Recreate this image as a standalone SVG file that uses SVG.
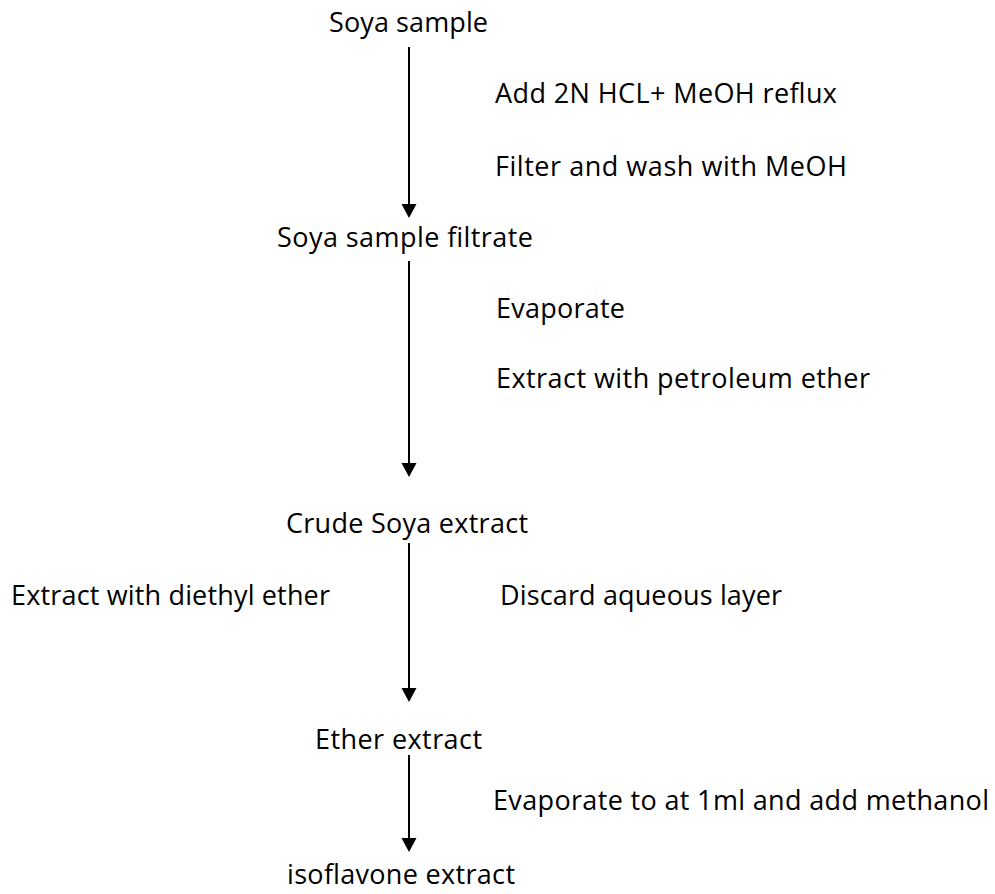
<svg xmlns="http://www.w3.org/2000/svg" xmlns:xlink="http://www.w3.org/1999/xlink" width="995" height="894" viewBox="0 0 995 894">
<style>
text{font-family:"Open Sans","Liberation Sans",sans-serif;font-size:27px;fill:#000}
.ln{stroke:#000;stroke-width:2;fill:none}
.hd{fill:#000;stroke:none}
</style>
<defs>
<path id="head" d="M-7.5,0 L7.5,0 L0,14 Z"/>
</defs>
<rect width="995" height="894" fill="#fff"/>
<g id="n1"><text x="329" y="32" textLength="159">Soya sample</text></g>
<g id="n2"><text x="277" y="247" textLength="256">Soya sample filtrate</text></g>
<g id="n3"><text x="286" y="533" textLength="242">Crude Soya extract</text></g>
<g id="n4"><text x="315" y="749" textLength="167">Ether extract</text></g>
<g id="n5"><text x="287" y="884" textLength="228">isoflavone extract</text></g>
<g id="labels">
<text x="495" y="103" textLength="342">Add 2N HCL+ MeOH reflux</text>
<text x="495" y="176" textLength="352">Filter and wash with MeOH</text>
<text x="496" y="318" textLength="129">Evaporate</text>
<text x="496" y="388" textLength="374">Extract with petroleum ether</text>
<text x="11" y="605" textLength="319">Extract with diethyl ether</text>
<text x="500" y="605" textLength="282">Discard aqueous layer</text>
<text x="493" y="810" textLength="496">Evaporate to at 1ml and add methanol</text>
</g>
<g id="connectors">
<line class="ln" x1="409" y1="47" x2="409" y2="206"/>
<use href="#head" class="hd" x="409" y="204"/>
<line class="ln" x1="409" y1="261" x2="409" y2="464"/>
<use href="#head" class="hd" x="409" y="463"/>
<line class="ln" x1="409" y1="543" x2="409" y2="689"/>
<use href="#head" class="hd" x="409" y="688"/>
<line class="ln" x1="409" y1="755" x2="409" y2="839"/>
<use href="#head" class="hd" x="409" y="838"/>
</g>
</svg>
